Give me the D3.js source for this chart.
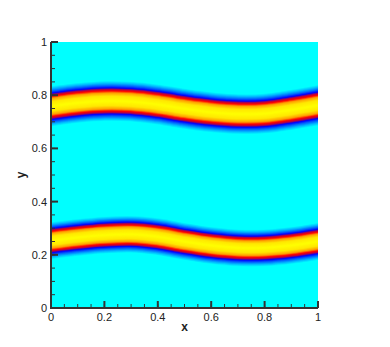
<!DOCTYPE html>
<html>
<head>
<meta charset="utf-8">
<script src="https://cdn.jsdelivr.net/npm/d3@7"></script>
<style>
  body { margin: 0; background: #fff; }
  text { font-family: "Liberation Sans", Arial, sans-serif; }
</style>
</head>
<body>
<div id="chart"></div>
<script>
// sample positions along x and band centerlines
var xSamples = [0, 0.1, 0.2, 0.3, 0.4, 0.5, 0.6, 0.7, 0.8, 0.9, 1.0];
var upperBand = [0.758, 0.771, 0.778, 0.776, 0.765, 0.749, 0.736, 0.729, 0.731, 0.745, 0.762];
var lowerBand = [0.253, 0.265, 0.274, 0.277, 0.268, 0.250, 0.235, 0.226, 0.226, 0.235, 0.250];
var bandHalfWidth = [0.076, 0.07];

// colour profile across a band: 0 = band centre, 1 = outer edge
var profileStops = [0, 0.24, 0.4, 0.5, 0.58, 0.65, 0.76, 0.88, 1];
var profileColors = ["#ffff00", "#ffe800", "#ffa000", "#ff0000", "#b00048", "#0000ff", "#0064ff", "#00bcff", "#00ffff"];

var majorTicks = [0, 0.2, 0.4, 0.6, 0.8, 1];
var tickLabels = ["0", "0.2", "0.4", "0.6", "0.8", "1"];
var minorTicks = d3.range(0, 21).map(function(i) { return i / 20; });

function initChart(divSelector) {
  var width = 390, height = 347;
  var left = 51, right = 318, top = 42, bottom = 308;

  var svg = d3.select(divSelector).append("svg")
    .attr("width", width)
    .attr("height", height);

  var x = d3.scaleLinear().domain([0, 1]).range([left, right]);
  var y = d3.scaleLinear().domain([0, 1]).range([bottom, top]);
  var color = d3.scaleLinear().domain(profileStops).range(profileColors);

  svg.append("defs").append("clipPath")
      .attr("id", "plotclip")
    .append("rect")
      .attr("x", left).attr("y", top)
      .attr("width", right - left).attr("height", bottom - top);

  svg.append("rect")
    .attr("x", left).attr("y", top)
    .attr("width", right - left).attr("height", bottom - top)
    .attr("fill", "#00ffff");

  var field = svg.append("g").attr("clip-path", "url(#plotclip)");
  var line = d3.line()
    .x(function(d) { return x(d[0]); })
    .y(function(d) { return y(d[1]); })
    .curve(d3.curveCatmullRom);

  var layers = d3.range(60, 0, -1).map(function(i) { return i / 60; });
  [upperBand, lowerBand].forEach(function(band, b) {
    var pts = xSamples.map(function(v, i) { return [v, band[i]]; });
    var pxHalf = y(0) - y(bandHalfWidth[b]);
    layers.forEach(function(d) {
      field.append("path")
        .attr("d", line(pts))
        .attr("fill", "none")
        .attr("stroke", color(d))
        .attr("stroke-width", 2 * d * pxHalf)
        .attr("stroke-linecap", "square");
    });
  });

  var axisColor = "#333";
  // left axis
  svg.append("line")
    .attr("x1", left).attr("x2", left)
    .attr("y1", top).attr("y2", bottom + 1)
    .attr("stroke", axisColor).attr("stroke-width", 2);
  // bottom axis
  svg.append("line")
    .attr("x1", left - 1).attr("x2", right)
    .attr("y1", bottom).attr("y2", bottom)
    .attr("stroke", axisColor).attr("stroke-width", 2);

  svg.selectAll(".yminor").data(minorTicks).enter().append("line")
    .attr("x1", left).attr("x2", left + 4)
    .attr("y1", function(d) { return y(d); })
    .attr("y2", function(d) { return y(d); })
    .attr("stroke", axisColor).attr("stroke-width", 1);
  svg.selectAll(".xminor").data(minorTicks).enter().append("line")
    .attr("x1", function(d) { return x(d); })
    .attr("x2", function(d) { return x(d); })
    .attr("y1", bottom).attr("y2", bottom - 4)
    .attr("stroke", axisColor).attr("stroke-width", 1);

  svg.selectAll(".ymajor").data(majorTicks).enter().append("line")
    .attr("x1", left).attr("x2", left + 7)
    .attr("y1", function(d) { return y(d); })
    .attr("y2", function(d) { return y(d); })
    .attr("stroke", axisColor).attr("stroke-width", 2);
  svg.selectAll(".xmajor").data(majorTicks).enter().append("line")
    .attr("x1", function(d) { return x(d); })
    .attr("x2", function(d) { return x(d); })
    .attr("y1", bottom).attr("y2", bottom - 7)
    .attr("stroke", axisColor).attr("stroke-width", 2);

  svg.selectAll(".ylab").data(majorTicks).enter().append("text")
    .attr("x", left - 4)
    .attr("y", function(d) { return y(d) + 4; })
    .attr("text-anchor", "end")
    .attr("font-size", 11)
    .attr("fill", "#222")
    .text(function(d, i) { return tickLabels[i]; });
  svg.selectAll(".xlab").data(majorTicks).enter().append("text")
    .attr("x", function(d) { return x(d); })
    .attr("y", bottom + 13)
    .attr("text-anchor", "middle")
    .attr("font-size", 11)
    .attr("fill", "#222")
    .text(function(d, i) { return tickLabels[i]; });

  svg.append("text")
    .attr("x", (left + right) / 2)
    .attr("y", 331)
    .attr("text-anchor", "middle")
    .attr("font-size", 12)
    .attr("font-weight", "bold")
    .attr("fill", "#222")
    .text("x");
  svg.append("text")
    .attr("transform", "translate(25," + ((top + bottom) / 2) + ") rotate(-90)")
    .attr("text-anchor", "middle")
    .attr("font-size", 12)
    .attr("font-weight", "bold")
    .attr("fill", "#222")
    .text("y");
}

initChart("#chart");
</script>
</body>
</html>
